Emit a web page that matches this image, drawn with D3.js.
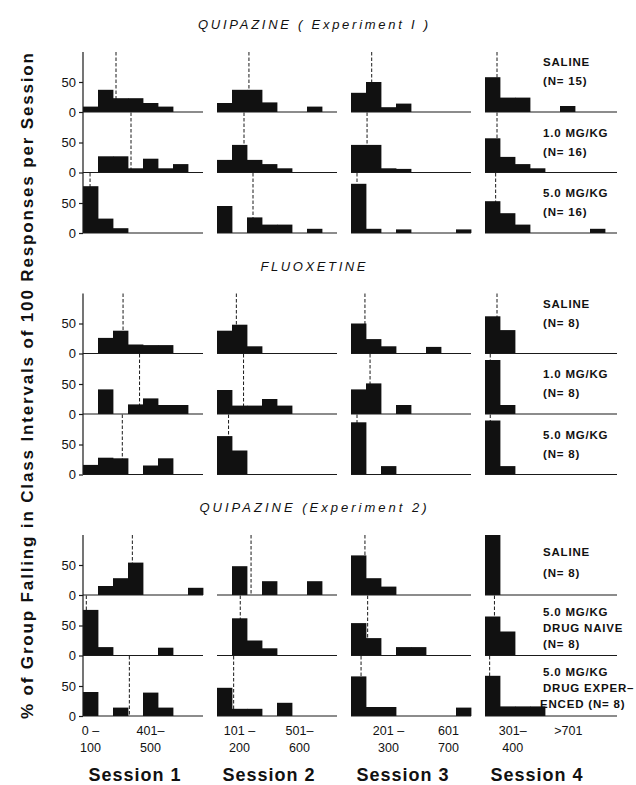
<!DOCTYPE html>
<html>
<head>
<meta charset="utf-8">
<script src="https://cdn.jsdelivr.net/npm/d3@7"></script>
<style>
    html, body { margin: 0; padding: 0; background: #fff; }
    svg { display: block; font-family: 'Liberation Sans', Arial, sans-serif; }
    .bar { fill: #111; }
    .baseline { stroke: #1a1a1a; stroke-width: 1.2; }
    .median { stroke: #1a1a1a; stroke-width: 1; stroke-dasharray: 3.5 2; }
    .axis-line { stroke: #1a1a1a; stroke-width: 1.2; }
    .tick line { stroke: #1a1a1a; stroke-width: 1.2; }
    .tick text { font-size: 13px; fill: #111; font-family: 'Liberation Sans', Arial, sans-serif; }
    .section__title { font-size: 13px; font-style: italic; fill: #111; }
    .group-label { font-size: 11.5px; font-weight: bold; fill: #111; letter-spacing: 0.8px; }
    .class-label { font-size: 12.5px; fill: #111; }
    .session-label { font-size: 18px; font-weight: bold; fill: #111; letter-spacing: 1px; }
    .y-title { font-size: 17px; font-weight: bold; fill: #111; }
</style>
</head>
<body>
<svg id="chart" width="636" height="785"></svg>
<script>
var sessions      = ['Session 1', 'Session 2', 'Session 3', 'Session 4'];
var sectionTitles = ['QUIPAZINE ( Experiment I )', 'FLUOXETINE', 'QUIPAZINE (Experiment 2)'];
var binEdges      = [0, 100, 200, 300, 400, 500, 600, 700, 800];
var yTitle        = '% of Group Falling in Class Intervals of 100 Responses per Session';

var groupLabels = [
    [['SALINE', '(N= 15)'], ['1.0 MG/KG', '(N= 16)'], ['5.0 MG/KG', '(N= 16)']],
    [['SALINE', '(N= 8)'], ['1.0 MG/KG', '(N= 8)'], ['5.0 MG/KG', '(N= 8)']],
    [['SALINE', '(N= 8)'], ['5.0 MG/KG', 'DRUG NAIVE', '(N= 8)'], ['5.0 MG/KG', 'DRUG EXPER–', 'ENCED (N= 8)']]
];

// % per class interval, [group][session][interval]
var quipazine1 = [
    [[9, 37, 23, 23, 15, 9, 0, 0], [15, 37, 37, 16, 0, 0, 9, 0], [32, 50, 8, 14, 0, 0, 0, 0], [58, 24, 24, 0, 0, 10, 0, 0]],
    [[0, 27, 27, 7, 23, 7, 14, 0], [21, 46, 21, 14, 7, 0, 0, 0], [46, 46, 7, 6, 0, 0, 0, 0], [57, 26, 14, 7, 0, 0, 0, 0]],
    [[78, 24, 8, 0, 0, 0, 0, 0], [45, 0, 26, 14, 14, 0, 7, 0], [82, 7, 0, 6, 0, 0, 0, 6], [53, 33, 14, 0, 0, 0, 0, 7]]
];
var fluoxetine = [
    [[0, 26, 38, 15, 14, 14, 0, 0], [38, 48, 12, 0, 0, 0, 0, 0], [50, 24, 12, 0, 0, 11, 0, 0], [62, 39, 0, 0, 0, 0, 0, 0]],
    [[0, 41, 0, 16, 26, 15, 15, 0], [40, 14, 14, 25, 14, 0, 0, 0], [41, 51, 0, 15, 0, 0, 0, 0], [90, 15, 0, 0, 0, 0, 0, 0]],
    [[16, 28, 27, 0, 15, 27, 0, 0], [64, 40, 0, 0, 0, 0, 0, 0], [87, 0, 14, 0, 0, 0, 0, 0], [90, 14, 0, 0, 0, 0, 0, 0]]
];
var quipazine2 = [
    [[0, 15, 28, 54, 0, 0, 0, 12], [0, 48, 0, 23, 0, 0, 23, 0], [66, 28, 14, 0, 0, 0, 0, 0], [100, 0, 0, 0, 0, 0, 0, 0]],
    [[76, 14, 0, 0, 0, 13, 0, 0], [0, 62, 25, 12, 0, 0, 0, 0], [54, 29, 0, 14, 14, 0, 0, 0], [65, 40, 0, 0, 0, 0, 0, 0]],
    [[40, 0, 14, 0, 39, 14, 0, 0], [47, 12, 12, 0, 22, 0, 0, 0], [66, 15, 15, 0, 0, 0, 0, 14], [67, 16, 16, 16, 0, 0, 0, 0]]
];

// median responses per session (dashed lines), [group][session]
var quipazine1Medians = [[220, 213, 138, 80], [320, 180, 107, 80], [47, 240, 40, 71]];
var fluoxetineMedians = [[267, 129, 93, 80], [377, 177, 127, 35], [262, 77, 40, 35]];
var quipazine2Medians = [[329, 227, 93, 50], [22, 155, 111, 63], [309, 111, 67, 31]];

var classLabels = [
    { session: 0, at: 50,  lines: ['0 –', '100'] },
    { session: 0, at: 450, lines: ['401–', '500'] },
    { session: 1, at: 150, lines: ['101 –', '200'] },
    { session: 1, at: 550, lines: ['501–', '600'] },
    { session: 2, at: 250, lines: ['201 –', '300'] },
    { session: 2, at: 650, lines: ['601', '700'] },
    { session: 3, at: 185, lines: ['301–', '400'] },
    { session: 3, at: 555, lines: ['>701'] }
];

var sections = [
    { title: sectionTitles[0], bars: quipazine1, medians: quipazine1Medians, labels: groupLabels[0], titleWidth: 230 },
    { title: sectionTitles[1], bars: fluoxetine, medians: fluoxetineMedians, labels: groupLabels[1], titleWidth: 105 },
    { title: sectionTitles[2], bars: quipazine2, medians: quipazine2Medians, labels: groupLabels[2], titleWidth: 227 }
];

var svg = d3.select('#chart');

var sessionLeft = d3.scaleLinear().domain([0, sessions.length - 1]).range([83, 485]);
var x           = d3.scaleLinear().domain([0, 800]).range([0, 120]);
var rowBase     = (s, r) => 112 + s * 241.5 + r * 60.5;
var rowHeight   = 60;

var sectionEls = svg.selectAll('.section')
    .data(sections)
    .enter().append('g')
    .attr('class', 'section')
;

sectionEls.each(function (section, s) {
    var sectionEl = d3.select(this);
    var top = rowBase(s, 0) - rowHeight;

    sectionEl.append('text')
        .attr('class', 'section__title')
        .attr('x', 313)
        .attr('y', top - 23)
        .attr('text-anchor', 'middle')
        .attr('textLength', section.titleWidth)
        .attr('lengthAdjust', 'spacing')
        .text(section.title)
    ;

    section.bars.forEach(function (row, r) {
        var base = rowBase(s, r);
        var y = d3.scaleLinear().domain([0, 100]).range([base, base - rowHeight]);

        var panels = sectionEl.selectAll(`.panel-${ r }`)
            .data(row)
            .enter().append('g')
            .attr('class', `panel panel-${ r }`)
            .attr('transform', (d, i) => `translate(${ sessionLeft(i) }, 0)`)
        ;

        panels.append('line')
            .attr('class', 'median')
            .attr('x1', (d, i) => x(section.medians[r][i]))
            .attr('x2', (d, i) => x(section.medians[r][i]))
            .attr('y1', y(100))
            .attr('y2', y(0))
        ;

        panels.each(function (values) {
            d3.select(this).selectAll('.bar')
                .data(values.map((v, k) => ({ v: v, from: binEdges[k], to: binEdges[k + 1] })).filter(d => d.v > 0))
                .enter().append('rect')
                .attr('class', 'bar')
                .attr('x', d => x(d.from))
                .attr('width', d => x(d.to) - x(d.from) + 0.4)
                .attr('y', d => y(d.v))
                .attr('height', d => y(0) - y(d.v))
            ;
        });

        panels.append('line')
            .attr('class', 'baseline')
            .attr('x1', 0)
            .attr('x2', (d, i) => x(800) + (i === sessions.length - 1 ? 12 : 0))
            .attr('y1', y(0))
            .attr('y2', y(0))
        ;

        // y ticks on the first session only
        sectionEl.append('g')
            .attr('transform', `translate(${ sessionLeft(0) }, 0)`)
            .call(d3.axisLeft(y).tickValues([0, 50]).tickSize(4).tickPadding(3))
            .call(g => g.select('.domain').remove())
        ;

        // group label
        var lines = section.labels[r];
        var first = lines.length === 3 ? -40 : (r === 0 ? (s < 2 ? -46 : -39) : -36);
        var step  = lines.length === 3 ? 16 : (r === 0 && s === 2 ? 21 : 19);
        var hangs = lines[lines.length - 1].indexOf('ENCED') === 0;

        sectionEl.append('text')
            .attr('class', 'group-label')
            .selectAll('tspan')
            .data(lines)
            .enter().append('tspan')
            .attr('x', (d, k) => (hangs && k === lines.length - 1) ? 540 : 543)
            .attr('y', (d, k) => base + first + k * step)
            .text(d => d)
        ;
    });

    sectionEl.append('line')
        .attr('class', 'axis-line')
        .attr('x1', sessionLeft(0))
        .attr('x2', sessionLeft(0))
        .attr('y1', top)
        .attr('y2', rowBase(s, 2))
    ;
});

// class interval labels under the last row
var bottom = rowBase(sections.length - 1, 2);

svg.selectAll('.class-label')
    .data(classLabels)
    .enter().append('text')
    .attr('class', 'class-label')
    .attr('text-anchor', 'middle')
    .each(function (d) {
        d3.select(this).selectAll('tspan')
            .data(d.lines)
            .enter().append('tspan')
            .attr('x', sessionLeft(d.session) + x(d.at))
            .attr('y', (t, k) => bottom + 19 + k * 17)
            .text(t => t)
        ;
    })
;

svg.selectAll('.session-label')
    .data(sessions)
    .enter().append('text')
    .attr('class', 'session-label')
    .attr('text-anchor', 'middle')
    .attr('x', (d, i) => sessionLeft(i) + x(400) - 8)
    .attr('y', 781)
    .text(d => d)
;

svg.append('text')
    .attr('class', 'y-title')
    .attr('transform', 'translate(33, 386) rotate(-90)')
    .attr('text-anchor', 'middle')
    .attr('textLength', 666)
    .attr('lengthAdjust', 'spacing')
    .text(yTitle)
;
</script>
</body>
</html>
